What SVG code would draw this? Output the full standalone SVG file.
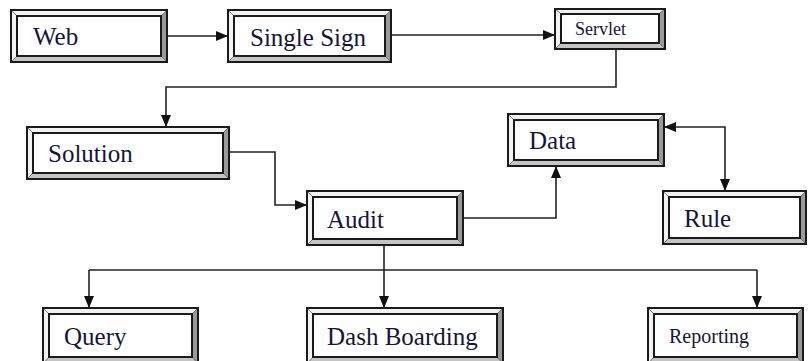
<svg xmlns="http://www.w3.org/2000/svg" width="809" height="361" viewBox="0 0 809 361">
  <style>
    .frame { fill: none; stroke: #1a1a1a; stroke-width: 2; }
    .face { fill: #ffffff; stroke: #1a1a1a; stroke-width: 2; }
    .lite { fill: #f2f2f2; stroke: #555; stroke-width: 0.6; }
    .dark { fill: #9a9a9a; stroke: #555; stroke-width: 0.6; }
    .base { fill: #c4c4c4; stroke: #555; stroke-width: 0.6; }
    .lbl { font-family: "Liberation Serif", "Times New Roman", serif; font-size: 25px; fill: #15153a; }
    .sm { font-size: 18px; }
    .md { font-size: 20px; }
    .wire { fill: none; stroke: #222; stroke-width: 1.6; }
  </style>
  <defs>
    <marker id="arrow" viewBox="0 0 12 10" refX="12" refY="5" markerWidth="12" markerHeight="10" markerUnits="userSpaceOnUse" orient="auto-start-reverse">
      <path d="M0,0 L12,5 L0,10 z" fill="#111"/>
    </marker>
  </defs>

  <rect width="809" height="361" fill="#ffffff"/>

  <!-- Bevelled boxes: outer frame, four bevel faces, inner white face -->
  <g id="web">
    <polygon class="lite" points="11,10 167,10 161,16 17,16"/>
    <polygon class="lite" points="11,10 17,16 17,56 11,62"/>
    <polygon class="dark" points="167,10 167,62 161,56 161,16"/>
    <polygon class="base" points="11,62 17,56 161,56 167,62"/>
    <rect class="frame" x="11" y="10" width="156" height="52"/>
    <rect class="face" x="17" y="16" width="144" height="40"/>
    <text class="lbl" x="33" y="45">Web</text>
  </g>

  <g id="single-sign">
    <polygon class="lite" points="228,10 391,10 385,16 234,16"/>
    <polygon class="lite" points="228,10 234,16 234,56 228,62"/>
    <polygon class="dark" points="391,10 391,62 385,56 385,16"/>
    <polygon class="base" points="228,62 234,56 385,56 391,62"/>
    <rect class="frame" x="228" y="10" width="163" height="52"/>
    <rect class="face" x="234" y="16" width="151" height="40"/>
    <text class="lbl" x="250" y="46">Single Sign</text>
  </g>

  <g id="servlet">
    <polygon class="lite" points="555,9 665,9 659,14 561,14"/>
    <polygon class="lite" points="555,9 561,14 561,43 555,49"/>
    <polygon class="dark" points="665,9 665,49 659,43 659,14"/>
    <polygon class="base" points="555,49 561,43 659,43 665,49"/>
    <rect class="frame" x="555" y="9" width="110" height="40"/>
    <rect class="face" x="561" y="14" width="98" height="29"/>
    <text class="lbl sm" x="575" y="35">Servlet</text>
  </g>

  <g id="solution">
    <polygon class="lite" points="27,127 229,127 223,133 33,133"/>
    <polygon class="lite" points="27,127 33,133 33,173 27,179"/>
    <polygon class="dark" points="229,127 229,179 223,173 223,133"/>
    <polygon class="base" points="27,179 33,173 223,173 229,179"/>
    <rect class="frame" x="27" y="127" width="202" height="52"/>
    <rect class="face" x="33" y="133" width="190" height="40"/>
    <text class="lbl" x="48" y="162">Solution</text>
  </g>

  <g id="data">
    <polygon class="lite" points="508,114 664,114 658,120 514,120"/>
    <polygon class="lite" points="508,114 514,120 514,160 508,166"/>
    <polygon class="dark" points="664,114 664,166 658,160 658,120"/>
    <polygon class="base" points="508,166 514,160 658,160 664,166"/>
    <rect class="frame" x="508" y="114" width="156" height="52"/>
    <rect class="face" x="514" y="120" width="144" height="40"/>
    <text class="lbl" x="529" y="149">Data</text>
  </g>

  <g id="audit">
    <polygon class="lite" points="307,191 463,191 457,197 313,197"/>
    <polygon class="lite" points="307,191 313,197 313,239 307,245"/>
    <polygon class="dark" points="463,191 463,245 457,239 457,197"/>
    <polygon class="base" points="307,245 313,239 457,239 463,245"/>
    <rect class="frame" x="307" y="191" width="156" height="54"/>
    <rect class="face" x="313" y="197" width="144" height="42"/>
    <text class="lbl" x="327" y="228">Audit</text>
  </g>

  <g id="rule">
    <polygon class="lite" points="663,191 806,191 800,197 669,197"/>
    <polygon class="lite" points="663,191 669,197 669,238 663,244"/>
    <polygon class="dark" points="806,191 806,244 800,238 800,197"/>
    <polygon class="base" points="663,244 669,238 800,238 806,244"/>
    <rect class="frame" x="663" y="191" width="143" height="53"/>
    <rect class="face" x="669" y="197" width="131" height="41"/>
    <text class="lbl" x="684" y="227">Rule</text>
  </g>

  <g id="query">
    <polygon class="lite" points="43,308 198,308 192,314 49,314"/>
    <polygon class="lite" points="43,308 49,314 49,357 43,364"/>
    <polygon class="dark" points="198,308 198,364 192,357 192,314"/>
    <polygon class="base" points="43,364 49,357 192,357 198,364"/>
    <rect class="frame" x="43" y="308" width="155" height="56"/>
    <rect class="face" x="49" y="314" width="143" height="43"/>
    <text class="lbl" x="64" y="345">Query</text>
  </g>

  <g id="dash-boarding">
    <polygon class="lite" points="307,308 503,308 497,314 313,314"/>
    <polygon class="lite" points="307,308 313,314 313,357 307,364"/>
    <polygon class="dark" points="503,308 503,364 497,357 497,314"/>
    <polygon class="base" points="307,364 313,357 497,357 503,364"/>
    <rect class="frame" x="307" y="308" width="196" height="56"/>
    <rect class="face" x="313" y="314" width="184" height="43"/>
    <text class="lbl" x="327" y="345">Dash Boarding</text>
  </g>

  <g id="reporting">
    <polygon class="lite" points="648,308 803,308 797,314 654,314"/>
    <polygon class="lite" points="648,308 654,314 654,357 648,364"/>
    <polygon class="dark" points="803,308 803,364 797,357 797,314"/>
    <polygon class="base" points="648,364 654,357 797,357 803,364"/>
    <rect class="frame" x="648" y="308" width="155" height="56"/>
    <rect class="face" x="654" y="314" width="143" height="43"/>
    <text class="lbl md" x="669" y="343">Reporting</text>
  </g>

  <!-- Connectors -->
  <g id="connectors">
    <path class="wire" d="M167,36 H228" marker-end="url(#arrow)"/>
    <path class="wire" d="M391,35 H555" marker-end="url(#arrow)"/>
    <path class="wire" d="M616,49 V87 H166 V127" marker-end="url(#arrow)"/>
    <path class="wire" d="M229,152 H275 V205 H307" marker-end="url(#arrow)"/>
    <path class="wire" d="M463,218 H556 V166" marker-end="url(#arrow)"/>
    <path class="wire" d="M664,127 H725 V191" marker-start="url(#arrow)" marker-end="url(#arrow)"/>
    <path class="wire" d="M384,245 V270"/>
    <path class="wire" d="M89,270 H757"/>
    <path class="wire" d="M89,270 V308" marker-end="url(#arrow)"/>
    <path class="wire" d="M384,270 V308" marker-end="url(#arrow)"/>
    <path class="wire" d="M757,270 V308" marker-end="url(#arrow)"/>
  </g>
</svg>
